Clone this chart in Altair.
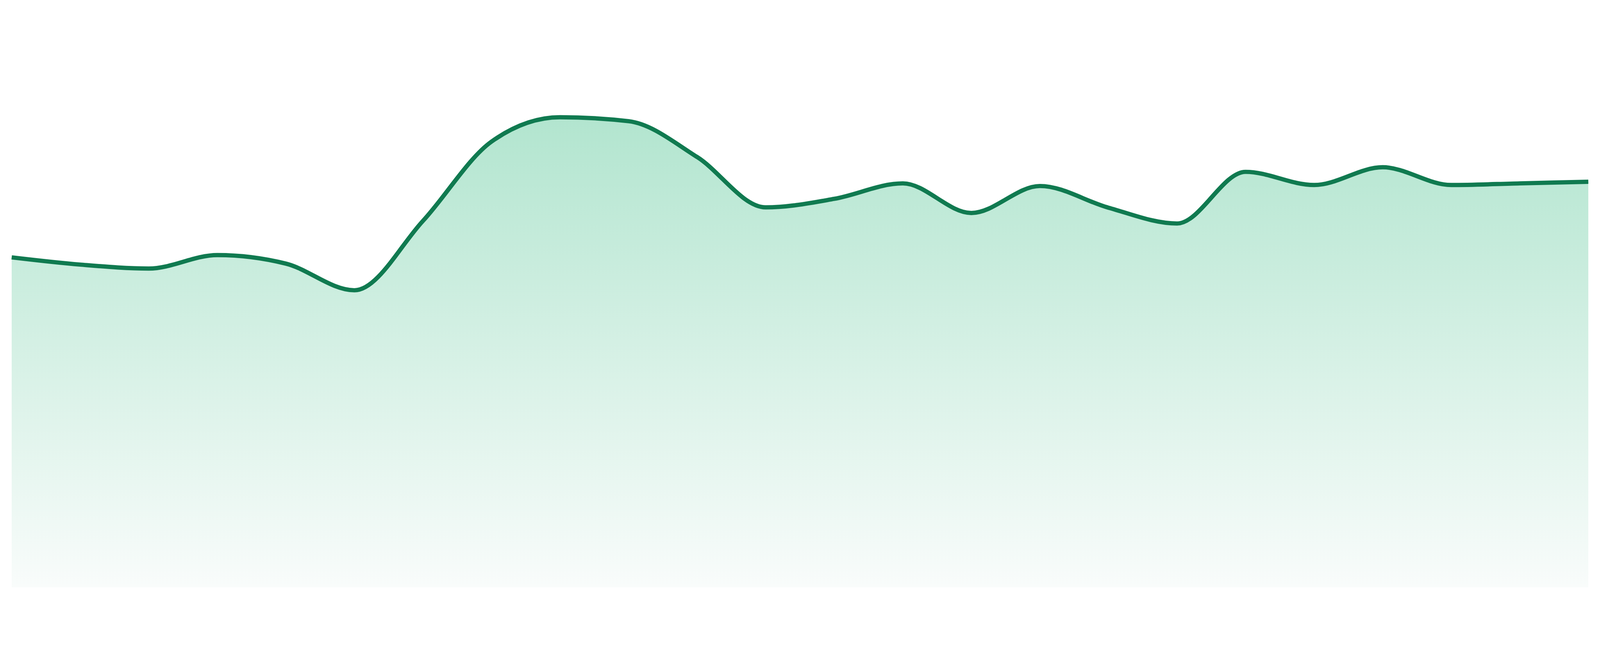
import altair as alt
import pandas as pd

index = list(range(24))
values = [1003, 981, 969, 1010, 984, 903, 1114, 1355, 1429, 1417, 1308, 1155,
          1181, 1228, 1138, 1220, 1154, 1106, 1263, 1223, 1277, 1223, 1228, 1233]

df = pd.DataFrame({"i": index, "v": values})

x = alt.X("i:Q", axis=None, scale=alt.Scale(domain=[0, 23], nice=False, zero=False))
y = alt.Y("v:Q", axis=None, scale=alt.Scale(domain=[0, 1624], nice=False))

base = alt.Chart(df).encode(x=x, y=y)

area = base.mark_area(
    interpolate="monotone",
    color=alt.Gradient(
        gradient="linear",
        stops=[
            alt.GradientStop(offset=0, color="#b2e5cf"),
            alt.GradientStop(offset=1, color="#f9fcfb"),
        ],
        x1=1, x2=1, y1=0, y2=1,
    ),
)

line = base.mark_line(interpolate="monotone", color="#107a50", strokeWidth=13)

chart = (
    (area + line)
    .properties(width=4792, height=1624, padding=0)
    .configure_view(stroke=None)
)

chart.save("out.html", embed_options={"renderer": "svg", "actions": False})
